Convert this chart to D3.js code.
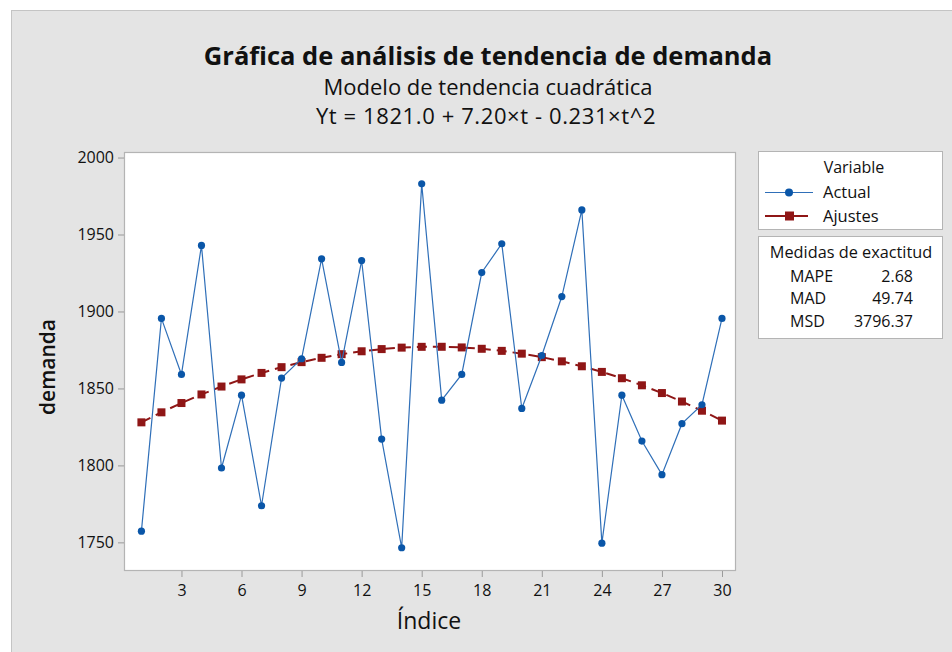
<!DOCTYPE html>
<html>
<head>
<meta charset="utf-8">
<script src="https://cdn.jsdelivr.net/npm/d3@7"></script>
<style>
  html, body { margin: 0; padding: 0; background: #ffffff; }
  svg { display: block; }
  text { font-family: "Open Sans", "Noto Sans", sans-serif; fill: #111; }
</style>
</head>
<body>
<svg id="chart" width="952" height="652"></svg>
<script>
// Demand series (period index 1..30)
const periods = d3.range(1, 31);
const actual = [1757.3, 1895.5, 1859.1, 1942.9, 1798.3, 1845.6, 1773.8, 1856.7, 1869.3, 1934.2,
                1866.9, 1933.1, 1817.1, 1746.5, 1982.9, 1842.4, 1859.1, 1925.3, 1944.0, 1837.0,
                1871.4, 1909.7, 1966.0, 1749.5, 1845.6, 1815.8, 1794.0, 1827.1, 1839.4, 1895.5];
// Fitted values of the quadratic trend Yt = 1821.0 + 7.20·t − 0.231·t²
const fits = [1827.97, 1834.48, 1840.52, 1846.10, 1851.23, 1855.88, 1860.08, 1863.82, 1867.09, 1869.90,
              1872.25, 1874.14, 1875.56, 1876.52, 1877.03, 1877.06, 1876.64, 1875.76, 1874.41, 1872.60,
              1870.33, 1867.60, 1864.40, 1860.74, 1856.63, 1852.04, 1847.00, 1841.50, 1835.53, 1829.10];
const xTicks = [3, 6, 9, 12, 15, 18, 21, 24, 27, 30];
const yTicks = [1750, 1800, 1850, 1900, 1950, 2000];
const accuracyNames = ["MAPE", "MAD", "MSD"];
const accuracyValues = ["2.68", "49.74", "3796.37"];

const svg = d3.select("#chart");
const plot = { left: 124, top: 152, right: 736, bottom: 571 };
const blue = "#0a56a8", red = "#8f1616";

// page panel
svg.append("rect").attr("x", 11.5).attr("y", 10.5).attr("width", 960).attr("height", 660)
  .attr("fill", "#e4e4e4").attr("stroke", "#c4c4c4").attr("stroke-width", 1);

// titles
svg.append("text").attr("x", 488).attr("y", 65).attr("text-anchor", "middle")
  .style("font-size", "25.5px").style("font-weight", "bold")
  .text("Gráfica de análisis de tendencia de demanda");
svg.append("text").attr("x", 488).attr("y", 95).attr("text-anchor", "middle")
  .style("font-size", "22px").text("Modelo de tendencia cuadrática");
svg.append("text").attr("x", 486).attr("y", 124).attr("text-anchor", "middle")
  .style("font-size", "22px").style("letter-spacing", "0.6px")
  .text("Yt = 1821.0 + 7.20×t - 0.231×t^2");

const x = d3.scaleLinear().domain([0.13, 30.7]).range([plot.left, plot.right]);
const y = d3.scaleLinear().domain([1731.4, 2003.6]).range([plot.bottom, plot.top]);

// plot area
svg.append("rect").attr("x", plot.left + 0.5).attr("y", plot.top + 0.5)
  .attr("width", plot.right - plot.left - 1).attr("height", plot.bottom - plot.top - 1)
  .attr("fill", "#ffffff").attr("stroke", "#b4b4b4").attr("stroke-width", 1.2);

// axes
const xAxis = svg.append("g").attr("transform", `translate(0,${plot.bottom})`)
  .call(d3.axisBottom(x).tickValues(xTicks).tickFormat(d3.format("d"))
    .tickSize(6).tickPadding(8).tickSizeOuter(0));
const yAxis = svg.append("g").attr("transform", `translate(${plot.left},0)`)
  .call(d3.axisLeft(y).tickValues(yTicks).tickFormat(d3.format("d"))
    .tickSize(6).tickPadding(4).tickSizeOuter(0));
[xAxis, yAxis].forEach(g => {
  g.select(".domain").remove();
  g.selectAll(".tick line").attr("stroke", "#9a9a9a");
  g.selectAll(".tick text").style("font-size", "16px").style("font-family", "'Open Sans', sans-serif")
    .attr("fill", "#111");
});
yAxis.selectAll(".tick text").attr("dy", "0.34em");

// axis titles
svg.append("text").attr("x", 429).attr("y", 629).attr("text-anchor", "middle")
  .style("font-size", "23px").text("Índice");
svg.append("text").attr("transform", "translate(55,367) rotate(-90)").attr("text-anchor", "middle")
  .style("font-size", "21px").style("font-weight", 600).text("demanda");

// fitted trend
const line = d3.line().x((d, i) => x(periods[i])).y(d => y(d));
svg.append("path").datum(fits).attr("d", line).attr("fill", "none")
  .attr("stroke", red).attr("stroke-width", 2).attr("stroke-dasharray", "10,6");
svg.append("g").selectAll("rect").data(fits).join("rect")
  .attr("x", (d, i) => x(periods[i]) - 4).attr("y", d => y(d) - 4)
  .attr("width", 8).attr("height", 8).attr("fill", red);

// actual series
svg.append("path").datum(actual).attr("d", line).attr("fill", "none")
  .attr("stroke", "#2f6fb8").attr("stroke-width", 1.2);
svg.append("g").selectAll("circle").data(actual).join("circle")
  .attr("cx", (d, i) => x(periods[i])).attr("cy", d => y(d)).attr("r", 3.6).attr("fill", blue);

// legend
const lg = svg.append("g");
lg.append("rect").attr("x", 758.5).attr("y", 151.5).attr("width", 184).attr("height", 78)
  .attr("fill", "#ffffff").attr("stroke", "#b4b4b4");
lg.append("text").attr("x", 854).attr("y", 173).attr("text-anchor", "middle")
  .style("font-size", "16px").text("Variable");
lg.append("line").attr("x1", 765).attr("x2", 813).attr("y1", 192.5).attr("y2", 192.5)
  .attr("stroke", "#2f6fb8").attr("stroke-width", 1.2);
lg.append("circle").attr("cx", 789).attr("cy", 192.5).attr("r", 4).attr("fill", blue);
lg.append("text").attr("x", 823).attr("y", 198).style("font-size", "16.5px").text("Actual");
lg.append("line").attr("x1", 765).attr("x2", 808).attr("y1", 216).attr("y2", 216)
  .attr("stroke", red).attr("stroke-width", 2);
lg.append("rect").attr("x", 785).attr("y", 211.5).attr("width", 9).attr("height", 9).attr("fill", red);
lg.append("text").attr("x", 823).attr("y", 221.5).style("font-size", "16.5px").text("Ajustes");

// accuracy measures
const acc = svg.append("g");
acc.append("rect").attr("x", 758.5).attr("y", 236.5).attr("width", 184).attr("height", 102)
  .attr("fill", "#ffffff").attr("stroke", "#b4b4b4");
acc.append("text").attr("x", 851).attr("y", 258).attr("text-anchor", "middle")
  .style("font-size", "16.3px").text("Medidas de exactitud");
accuracyNames.forEach((n, i) => {
  acc.append("text").attr("x", 790).attr("y", 281.5 + i * 22.5).style("font-size", "16px").text(n);
  acc.append("text").attr("x", 913).attr("y", 281.5 + i * 22.5).attr("text-anchor", "end")
    .style("font-size", "16px").text(accuracyValues[i]);
});
</script>
</body>
</html>
